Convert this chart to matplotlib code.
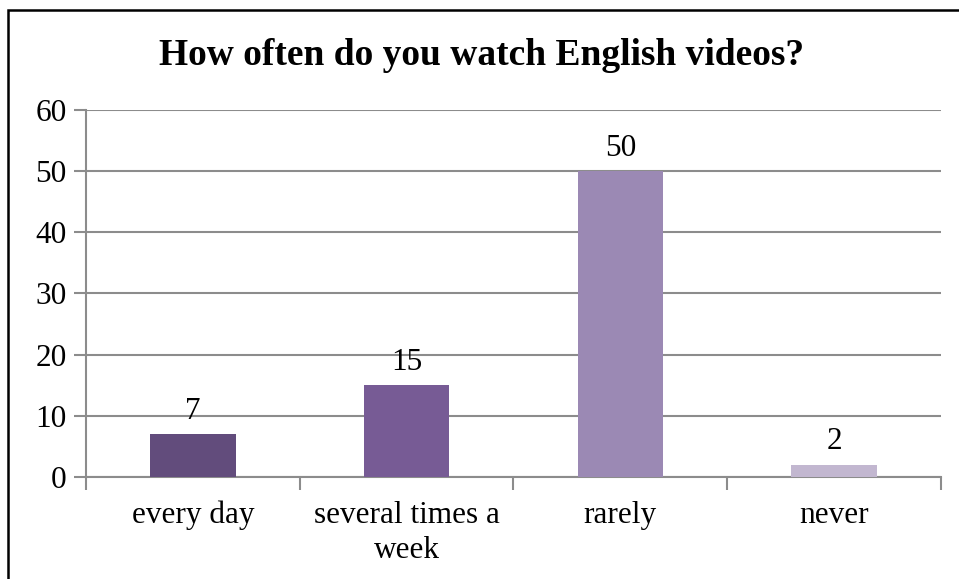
import matplotlib.pyplot as plt
from matplotlib.patches import Rectangle
import numpy as np

plt.rcParams['font.family'] = ['Liberation Serif', 'DejaVu Serif']

categories = ['every day', 'several times a\nweek', 'rarely', 'never']
values = [7, 15, 50, 2]
colors = ['#624C7C', '#775B95', '#9B89B4', '#C2B7D0']
title = 'How often do you watch English videos?'

grid_c = '#8C8C8C'

fig = plt.figure(figsize=(9.59, 5.79), dpi=100)
ax = fig.add_axes([0.0897, 0.1762, 0.8915, 0.6338])

x = np.arange(len(categories))
bars = ax.bar(x, values, width=0.4, color=colors, zorder=3)
for xi, v in zip(x, values):
    ax.text(xi, v + 1.4, str(v), ha='center', va='bottom', fontsize=22.5)

ax.set_xlim(-0.5, len(categories) - 0.5)
ax.set_ylim(0, 60)
ax.set_yticks(range(0, 61, 10))
ax.yaxis.grid(True, color=grid_c, linewidth=1.5, zorder=0)

ax.set_xticks(x)
ax.set_xticklabels(categories, fontsize=22.5, linespacing=1.28)
ax.tick_params(axis='x', length=0, pad=17)
ax.set_xticks(np.arange(-0.5, len(categories)), minor=True)
ax.tick_params(axis='x', which='minor', length=9, width=1.5, color=grid_c)
ax.tick_params(axis='y', labelsize=22.5, length=9, width=1.5, color=grid_c, pad=5)

for s in ['top', 'right']:
    ax.spines[s].set_visible(False)
for s in ['left', 'bottom']:
    ax.spines[s].set_color(grid_c)
    ax.spines[s].set_linewidth(1.5)

fig.text(0.502, 1 - 65 / 579, title, ha='center', va='baseline',
         fontsize=27, fontweight='bold')

# outer frame, cropped on the right and bottom
fig.patches.append(Rectangle((8 / 959, -0.1), 1.2, 1 - 10 / 579 + 0.1,
                             transform=fig.transFigure, fill=False,
                             edgecolor='black', linewidth=1.8))

fig.savefig('out.png', dpi=100)
